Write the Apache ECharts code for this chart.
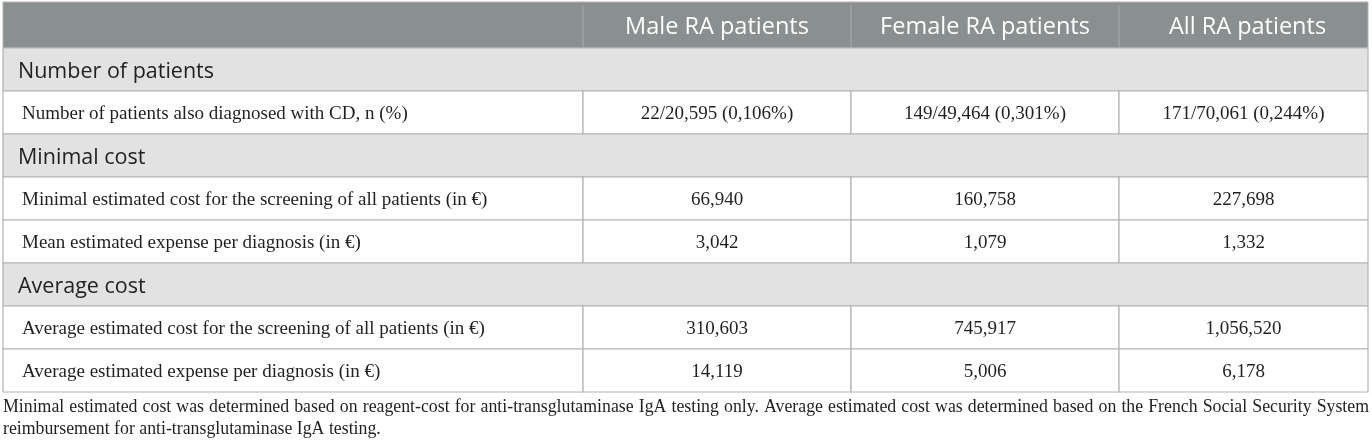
<!DOCTYPE html>
<html>
<head>
<meta charset="utf-8">
<script src="https://cdn.jsdelivr.net/npm/echarts@6/dist/echarts.min.js"></script>
<style>
  html, body { margin: 0; padding: 0; background: #fff; }
  #main { width: 1372px; height: 448px; }
</style>
</head>
<body>
<div id="main"></div>
<script>
// table content
const columns = ["Male RA patients", "Female RA patients", "All RA patients"];
const sections = ["Number of patients", "Minimal cost", "Average cost"];
const sectionSizes = [1, 2, 2];
const rowLabels = [
  "Number of patients also diagnosed with CD, n (%)",
  "Minimal estimated cost for the screening of all patients (in \u20ac)",
  "Mean estimated expense per diagnosis (in \u20ac)",
  "Average estimated cost for the screening of all patients (in \u20ac)",
  "Average estimated expense per diagnosis (in \u20ac)"
];
const maleValues = ["22/20,595 (0,106%)", "66,940", "3,042", "310,603", "14,119"];
const femaleValues = ["149/49,464 (0,301%)", "160,758", "1,079", "745,917", "5,006"];
const allValues = ["171/70,061 (0,244%)", "227,698", "1,332", "1,056,520", "6,178"];
const footnote = [
  "Minimal estimated cost was determined based on reagent-cost for anti-transglutaminase IgA testing only. Average estimated cost was determined based on the French Social Security System",
  "reimbursement for anti-transglutaminase IgA testing."
];

// layout: column edges in table units (x axis runs 0..TABLE_W)
const TABLE_W = 1365;
const colEdges = [0, 580, 848, 1116, TABLE_W];

const GRID_BORDER = "#b3b3b3";
const HEADER_BG = "#8a8f90";
const SECTION_BG = "#e1e2e1";
const TEXT = "#231f20";
const SERIF = "'Liberation Serif', 'DejaVu Serif', serif";
const SANS = "'Open Sans', 'Noto Sans', sans-serif";
const CELL_FONT = "19px " + SERIF;
const NOTE_FONT = "17.8px " + SERIF;

// flatten sections + data rows into body rows
const bodyRows = [];
let k = 0;
sections.forEach((s, si) => {
  bodyRows.push({ kind: "section", label: s });
  for (let j = 0; j < sectionSizes[si]; j++) {
    bodyRows.push({
      kind: "data",
      label: rowLabels[k],
      values: [maleValues[k], femaleValues[k], allValues[k]]
    });
    k++;
  }
});

function renderHeader(params, api) {
  const xs = colEdges.map((e) => api.coord([e, 0])[0]);
  const cy = api.coord([0, 0])[1];
  const h = api.size([0, 1])[1];
  const top = cy - h / 2;
  const children = [
    {
      type: "rect",
      shape: { x: xs[0], y: top, width: xs[4] - xs[0], height: h },
      style: { fill: HEADER_BG, stroke: GRID_BORDER, lineWidth: 1 }
    }
  ];
  for (let c = 1; c < 4; c++) {
    children.push({
      type: "line",
      shape: { x1: xs[c], y1: top + 4, x2: xs[c], y2: top + h },
      style: { stroke: "#a4a8a9", lineWidth: 1.2 }
    });
    children.push({
      type: "text",
      style: {
        text: columns[c - 1],
        x: (xs[c] + xs[c + 1]) / 2 + (c === 3 ? 4 : 0),
        y: cy + 2,
        align: "center",
        verticalAlign: "middle",
        fill: "#ffffff",
        font: "23.5px " + SANS
      }
    });
  }
  return { type: "group", children };
}

function renderBody(params, api) {
  const i = api.value(1);
  const row = bodyRows[i];
  const xs = colEdges.map((e) => api.coord([e, i])[0]);
  const cy = api.coord([0, i])[1];
  const h = api.size([0, 1])[1];
  const top = cy - h / 2;
  const children = [];
  if (row.kind === "section") {
    children.push({
      type: "rect",
      shape: { x: xs[0], y: top, width: xs[4] - xs[0], height: h },
      style: { fill: SECTION_BG, stroke: GRID_BORDER, lineWidth: 1.2 }
    });
    children.push({
      type: "text",
      style: {
        text: row.label,
        x: xs[0] + 15,
        y: cy + 2,
        verticalAlign: "middle",
        fill: TEXT,
        font: "21.5px " + SANS
      }
    });
  } else {
    for (let c = 0; c < 4; c++) {
      children.push({
        type: "rect",
        shape: { x: xs[c], y: top, width: xs[c + 1] - xs[c], height: h },
        style: { fill: "#ffffff", stroke: GRID_BORDER, lineWidth: 1.2 }
      });
    }
    children.push({
      type: "text",
      style: {
        text: row.label,
        x: xs[0] + 19,
        y: cy + 1.5,
        verticalAlign: "middle",
        fill: TEXT,
        font: CELL_FONT
      }
    });
    for (let c = 1; c < 4; c++) {
      children.push({
        type: "text",
        style: {
          text: row.values[c - 1],
          x: (xs[c] + xs[c + 1]) / 2,
          y: cy + 1.5,
          align: "center",
          verticalAlign: "middle",
          fill: TEXT,
          font: CELL_FONT
        }
      });
    }
  }
  return { type: "group", children };
}

// footnote: first line justified to the table width, second line flush left
const measureCtx = document.createElement("canvas").getContext("2d");
measureCtx.font = NOTE_FONT;
function noteLine(text, top, justify) {
  if (!justify) {
    return [{ type: "text", left: 3, top, style: { text, fill: TEXT, font: NOTE_FONT } }];
  }
  const words = text.split(" ");
  const widths = words.map((w) => measureCtx.measureText(w).width);
  const total = widths.reduce((a, b) => a + b, 0);
  const gap = Math.max(3, (TABLE_W + 1 - total) / (words.length - 1));
  let x = 3;
  return words.map((w, i) => {
    const el = { type: "text", left: x, top, style: { text: w, fill: TEXT, font: NOTE_FONT } };
    x += widths[i] + gap;
    return el;
  });
}

const chart = echarts.init(document.getElementById("main"));
chart.setOption({
  animation: false,
  grid: [
    { left: 3, width: TABLE_W, top: 2, height: 46 },
    { left: 3, width: TABLE_W, top: 48, height: 344 }
  ],
  xAxis: [
    { type: "value", gridIndex: 0, min: 0, max: TABLE_W, show: false },
    { type: "value", gridIndex: 1, min: 0, max: TABLE_W, show: false }
  ],
  yAxis: [
    { type: "category", gridIndex: 0, data: ["header"], show: false },
    {
      type: "category",
      gridIndex: 1,
      data: bodyRows.map((r) => r.label),
      inverse: true,
      show: false
    }
  ],
  series: [
    {
      type: "custom",
      xAxisIndex: 0,
      yAxisIndex: 0,
      renderItem: renderHeader,
      encode: { x: 0, y: 1 },
      data: [[0, 0]]
    },
    {
      type: "custom",
      xAxisIndex: 1,
      yAxisIndex: 1,
      renderItem: renderBody,
      encode: { x: 0, y: 1 },
      data: bodyRows.map((r, i) => [0, i])
    }
  ],
  graphic: noteLine(footnote[0], 398, true).concat(noteLine(footnote[1], 420, false))
});
</script>
</body>
</html>
